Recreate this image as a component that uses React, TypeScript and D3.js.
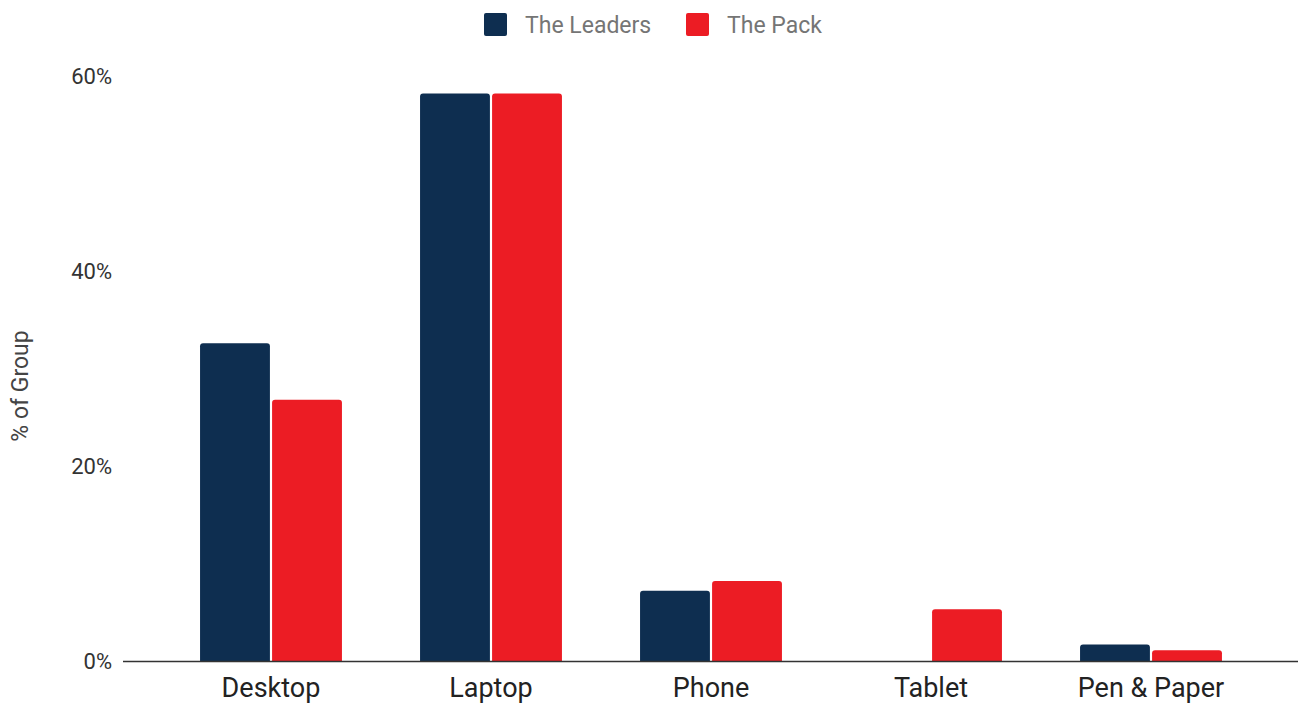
import React from "react";
import * as d3 from "d3";

const categories = ["Desktop", "Laptop", "Phone", "Tablet", "Pen & Paper"];
const seriesNames = ["The Leaders", "The Pack"];
const leaders = [32.6, 58.2, 7.2, 0, 1.7];
const pack = [26.8, 58.2, 8.2, 5.3, 1.1];
const yTicks = [0, 20, 40, 60];
const colors = ["#0e2e50", "#ec1c24"];

const W = 1301;
const H = 706;

function topRoundedRect(x: number, y: number, w: number, h: number, r: number) {
  if (h <= 0) return "";
  const rr = Math.min(r, h, w / 2);
  return `M${x},${y + h}V${y + rr}Q${x},${y} ${x + rr},${y}H${x + w - rr}Q${x + w},${y} ${x + w},${y + rr}V${y + h}Z`;
}

export default function App() {
  const x0 = d3.scaleBand<string>().domain(categories).range([161, 1261]).paddingInner(0.355).paddingOuter(0.1775);
  const x1 = d3.scaleBand<number>().domain([0, 1]).range([0, x0.bandwidth()]).paddingInner(0.03);
  const y = d3.scaleLinear().domain([0, 60]).range([661, 76]);
  const data = [leaders, pack];
  const font = "Roboto, 'Open Sans', sans-serif";

  return (
    <svg width={W} height={H} style={{ position: "absolute", left: 0, top: 0, background: "#fff" }} fontFamily={font}>
      {/* legend */}
      <g>
        <rect x={484} y={13} width={23} height={23} rx={2} fill={colors[0]} />
        <text x={525} y={33} fontSize={23} fill="#757575">{seriesNames[0]}</text>
        <rect x={686} y={13} width={23} height={23} rx={2} fill={colors[1]} />
        <text x={727} y={33} fontSize={23} fill="#757575">{seriesNames[1]}</text>
      </g>
      {/* y ticks */}
      {yTicks.map((t) => (
        <text key={t} x={112} y={y(t)} dy="0.35em" textAnchor="end" fontSize={22} fill="#333">
          {d3.format(".0f")(t)}%
        </text>
      ))}
      <text transform={`translate(28,386) rotate(-90)`} textAnchor="middle" fontSize={23} fill="#444">
        % of Group
      </text>
      {/* bars */}
      {categories.map((c, i) => (
        <g key={c} transform={`translate(${x0(c)},0)`}>
          {data.map((s, j) => (
            <path
              key={j}
              d={topRoundedRect(x1(j)!, y(s[i]), x1.bandwidth(), y(0) - y(s[i]), 3)}
              fill={colors[j]}
            />
          ))}
        </g>
      ))}
      {/* baseline */}
      <line x1={123} x2={1298} y1={y(0) + 0.5} y2={y(0) + 0.5} stroke="#333" strokeWidth={1.5} />
      {/* x labels */}
      {categories.map((c) => (
        <text key={c} x={x0(c)! + x0.bandwidth() / 2} y={697} textAnchor="middle" fontSize={27} fill="#222">
          {c}
        </text>
      ))}
    </svg>
  );
}
